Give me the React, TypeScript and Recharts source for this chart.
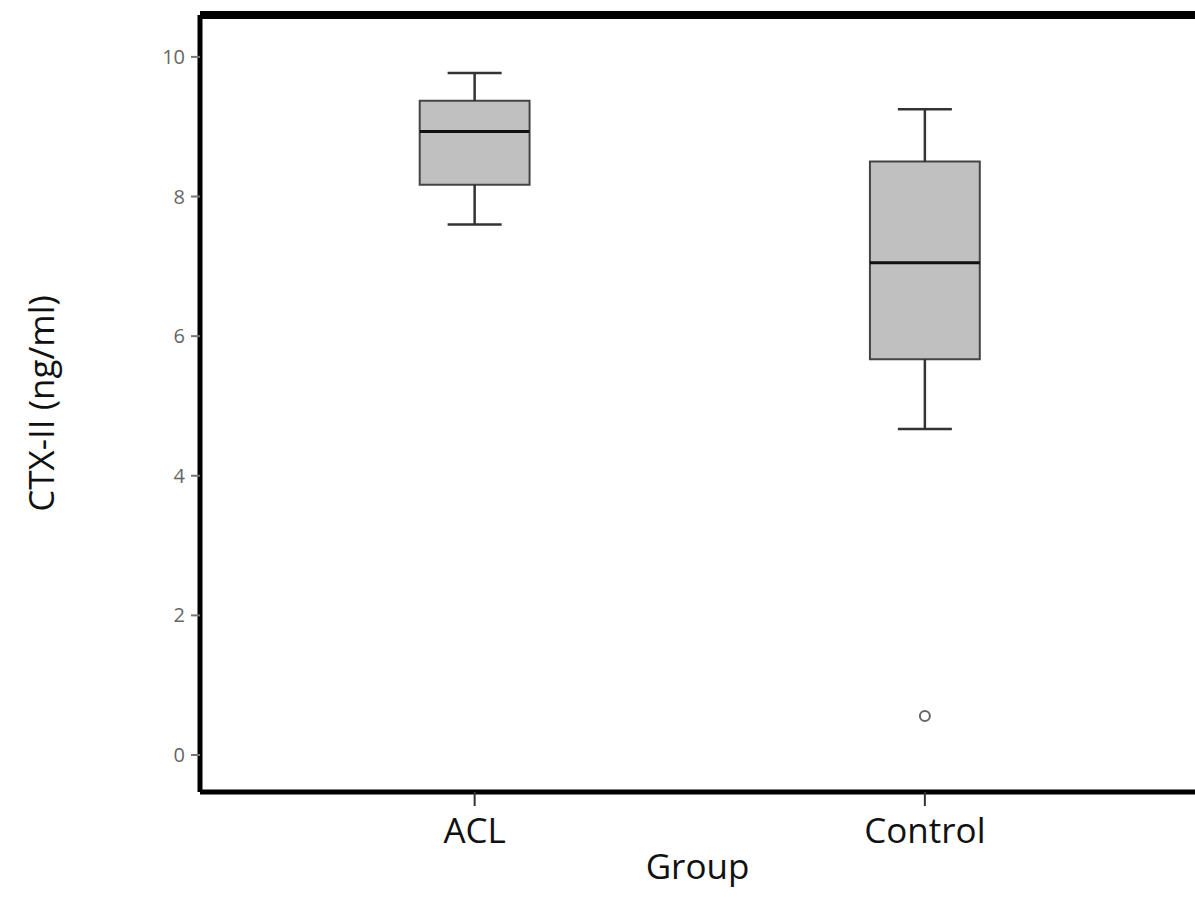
import React from 'react';
import {
  ComposedChart, XAxis, YAxis, ReferenceArea, ReferenceLine, Scatter,
} from 'recharts';

const groups = ['ACL', 'Control'];
const positions = [1, 2];
const whiskerLow = [7.6, 4.67];
const q1 = [8.17, 5.67];
const median = [8.93, 7.05];
const q3 = [9.37, 8.5];
const whiskerHigh = [9.77, 9.25];
const outliers = [{ x: 2, y: 0.56 }];
const yTicks = [0, 2, 4, 6, 8, 10];

const HALF = 0.122;
const CAP = 0.06;
const FONT = '"Open Sans", "DejaVu Sans", sans-serif';

const App: React.FC = () => {
  return (
    <div style={{ position: 'absolute', left: 0, top: 0, background: '#fff' }}>
      <ComposedChart width={1195} height={897} margin={{ top: 15, right: 0, left: 0, bottom: 0 }}>
        <XAxis
          type="number"
          dataKey="x"
          domain={[0.39, 2.6]}
          ticks={positions}
          tickFormatter={(v: number) => groups[positions.indexOf(v)] ?? ''}
          height={105}
          axisLine={{ stroke: '#000', strokeWidth: 5 }}
          tickLine={{ stroke: '#333', strokeWidth: 2 }}
          tickSize={14}
          tickMargin={12}
          tick={{ fill: '#111', fontSize: 35, fontFamily: FONT }}
          label={{ value: 'Group', position: 'insideBottom', offset: 18, fill: '#111', fontSize: 35, fontFamily: FONT }}
          allowDataOverflow
        />
        <YAxis
          type="number"
          dataKey="y"
          domain={[-0.53, 10.6]}
          ticks={yTicks}
          width={200}
          axisLine={{ stroke: '#000', strokeWidth: 5 }}
          tickLine={{ stroke: '#777', strokeWidth: 2 }}
          tickSize={9}
          tickMargin={6}
          tick={{ fill: '#666', fontSize: 20, fontFamily: FONT }}
          label={{ value: 'CTX-II (ng/ml)', angle: -90, position: 'insideLeft', offset: 42, fill: '#111', fontSize: 35, fontFamily: FONT, style: { textAnchor: 'middle' } }}
          allowDataOverflow
        />
        <ReferenceLine y={10.6} stroke="#000" strokeWidth={8} ifOverflow="extendDomain" />
        {positions.map((p, i) => (
          <React.Fragment key={groups[i]}>
            <ReferenceLine segment={[{ x: p, y: q3[i] }, { x: p, y: whiskerHigh[i] }]} stroke="#333" strokeWidth={2.5} />
            <ReferenceLine segment={[{ x: p, y: q1[i] }, { x: p, y: whiskerLow[i] }]} stroke="#333" strokeWidth={2.5} />
            <ReferenceLine segment={[{ x: p - CAP, y: whiskerHigh[i] }, { x: p + CAP, y: whiskerHigh[i] }]} stroke="#333" strokeWidth={2.5} />
            <ReferenceLine segment={[{ x: p - CAP, y: whiskerLow[i] }, { x: p + CAP, y: whiskerLow[i] }]} stroke="#333" strokeWidth={2.5} />
            <ReferenceArea x1={p - HALF} x2={p + HALF} y1={q1[i]} y2={q3[i]} fill="#c0c0c0" fillOpacity={1} stroke="#444" strokeWidth={2} />
            <ReferenceLine segment={[{ x: p - HALF, y: median[i] }, { x: p + HALF, y: median[i] }]} stroke="#111" strokeWidth={3} />
          </React.Fragment>
        ))}
        <Scatter
          data={outliers}
          isAnimationActive={false}
          shape={(props: any) => (
            <circle cx={props.cx} cy={props.cy} r={5} fill="#fff" stroke="#666" strokeWidth={2} />
          )}
        />
      </ComposedChart>
    </div>
  );
};

export default App;
